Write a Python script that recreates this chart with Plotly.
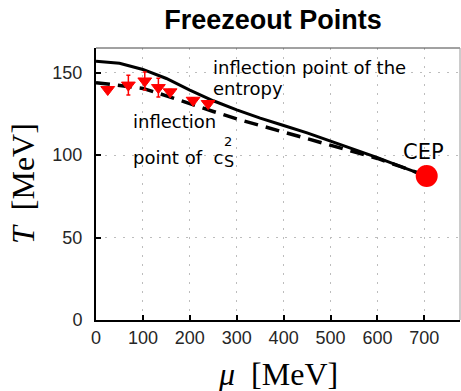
import plotly.graph_objects as go

# Freeze-out data (mu in MeV, T in MeV)
freeze_mu = [25, 69, 104, 133, 158, 207, 239]
freeze_T = [139.8, 142.5, 145.0, 141.0, 138.4, 133.3, 131.3]
freeze_err = [1.5, 6.0, 5.5, 5.7, 1.5, 1.5, 1.5]

# Inflection point of the entropy (solid)
entropy_mu = [0, 50, 100, 150, 200, 250, 300, 350, 400, 450, 500, 550, 600, 650, 705]
entropy_T = [157, 155.7, 152, 146.5, 139.5, 133, 127.5, 122.5, 118, 113.5, 108.5, 103.5, 98.5, 93, 87.3]

# Inflection point of c_s^2 (dashed)
cs2_mu = [0, 50, 100, 150, 200, 250, 300, 350, 400, 450, 500, 550, 600, 650, 705]
cs2_T = [144, 142.5, 140.5, 136, 131, 126.5, 122, 118, 114, 110, 106, 102, 98, 93, 87.3]

# Critical end point
cep_mu = [705]
cep_T = [87.3]

x_ticks = [0, 100, 200, 300, 400, 500, 600, 700]
y_ticks = [0, 50, 100, 150]

fig = go.Figure()

fig.add_trace(go.Scatter(
    x=entropy_mu, y=entropy_T, mode="lines",
    line=dict(color="black", width=3), hoverinfo="skip"))
fig.add_trace(go.Scatter(
    x=cs2_mu, y=cs2_T, mode="lines",
    line=dict(color="black", width=3.5, dash="14px,8px"), hoverinfo="skip"))
fig.add_trace(go.Scatter(
    x=freeze_mu, y=freeze_T, mode="markers",
    marker=dict(symbol="triangle-down", color="red", size=12,
                line=dict(color="red", width=1)),
    error_y=dict(type="data", array=freeze_err, color="red",
                 thickness=1.5, width=2)))
fig.add_trace(go.Scatter(
    x=cep_mu, y=cep_T, mode="markers",
    marker=dict(symbol="circle", color="red", size=22,
                line=dict(color="red", width=0))))

txt_font = dict(family="DejaVu Sans", size=18, color="black")
annotations = [
    dict(x=247, y=153.3, text="inflection point of the", xanchor="left", font=txt_font),
    dict(x=247, y=140.6, text="entropy", xanchor="left", font=txt_font),
    dict(x=76, y=120.2, text="inflection", xanchor="left", font=txt_font),
    dict(x=76, y=98.4, text="point of  c", xanchor="left", font=txt_font),
    dict(x=282, y=108.5, text="2", xanchor="center",
         font=dict(family="DejaVu Sans", size=13, color="black")),
    dict(x=284, y=96.2, text="S", xanchor="center",
         font=dict(family="DejaVu Sans", size=16, color="black")),
    dict(x=699, y=101.8, text="CEP", xanchor="center",
         font=dict(family="DejaVu Sans", size=21, color="black")),
]
for a in annotations:
    a.update(xref="x", yref="y", yanchor="middle", showarrow=False, borderpad=0)

serif = dict(family="Liberation Serif", size=32, color="black")
annotations += [
    dict(xref="paper", yref="paper", x=0.5, y=0, yanchor="middle", xanchor="center",
         yshift=-54, text="<i>μ</i>  [MeV]", showarrow=False, font=serif),
    dict(xref="paper", yref="paper", x=0, y=0.5, yanchor="middle", xanchor="center",
         xshift=-73, text="<i>T</i>  [MeV]", textangle=-90, showarrow=False, font=serif),
]

fig.update_layout(
    width=461, height=391,
    margin=dict(l=96, r=1, t=48, b=71),
    paper_bgcolor="white", plot_bgcolor="white",
    showlegend=False,
    title=dict(text="<b>Freezeout Points</b>", x=273 / 461, xref="container",
               xanchor="center", y=1 - 20 / 391, yref="container", yanchor="middle",
               font=dict(family="Liberation Sans", size=27, color="black")),
    annotations=annotations,
    shapes=[
        dict(type="line", xref="paper", yref="paper", x0=0, x1=1, y0=1, y1=1,
             line=dict(color="#444444", width=1)),
        dict(type="line", xref="paper", yref="paper", x0=1, x1=1, y0=0, y1=1,
             line=dict(color="#999999", width=1)),
    ],
)

axis_common = dict(
    showline=True, linecolor="black", linewidth=2, mirror=False,
    ticks="inside", ticklen=5, tickwidth=1.5, tickcolor="black",
    showgrid=True, gridcolor="#bdbdbd", griddash="2px,7px", gridwidth=1,
    zeroline=False,
    tickfont=dict(family="Liberation Sans", size=18, color="#262626"),
)
fig.update_xaxes(range=[0, 776], tickvals=x_ticks, **axis_common)
fig.update_yaxes(range=[0, 165], tickvals=y_ticks, ticklabelstandoff=8, **axis_common)

fig.write_html("out.html")
